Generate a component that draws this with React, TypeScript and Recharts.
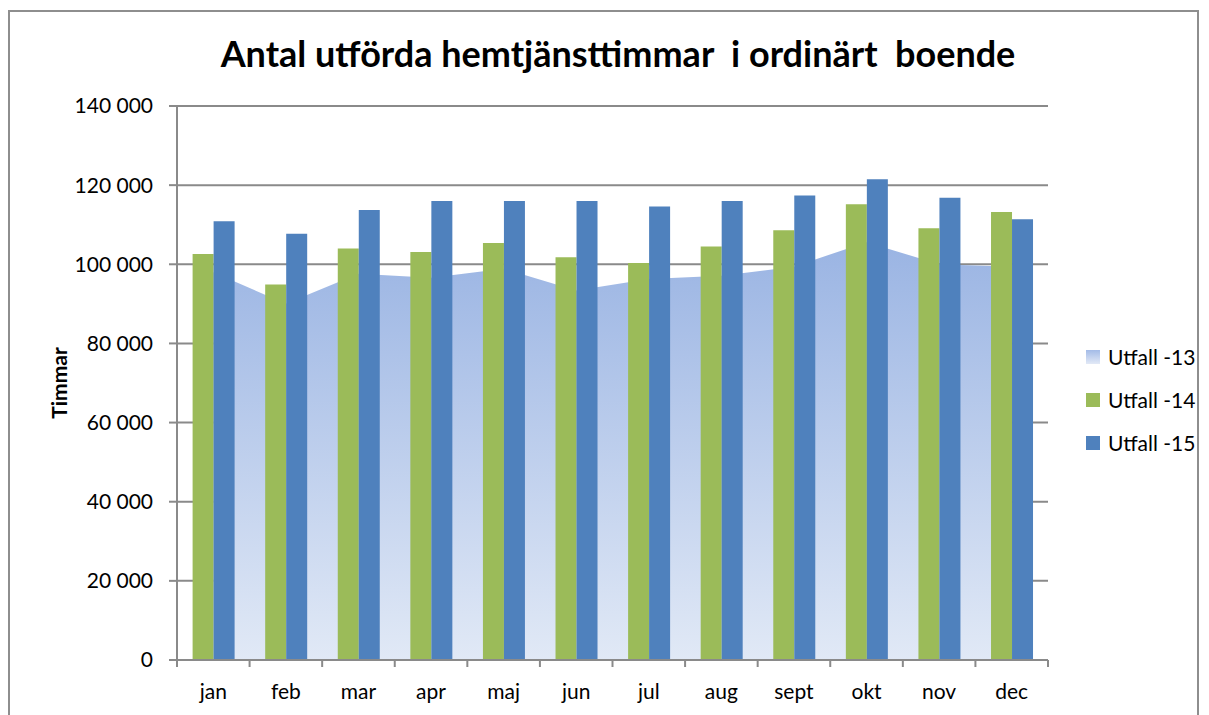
import React from 'react';
import { ComposedChart, Bar, Area, XAxis, YAxis, CartesianGrid, Legend, Label } from 'recharts';

const months = ['jan', 'feb', 'mar', 'apr', 'maj', 'jun', 'jul', 'aug', 'sept', 'okt', 'nov', 'dec'];
const utfall13 = [98000, 90000, 97600, 96600, 98900, 93400, 96300, 97100, 99400, 105600, 100000, 99400];
const utfall14 = [102600, 94900, 104000, 103100, 105400, 101800, 100300, 104500, 108600, 115200, 109100, 113200];
const utfall15 = [110900, 107700, 113700, 116000, 116000, 116000, 114600, 116000, 117400, 121500, 116800, 111400];
const yTicks = [0, 20000, 40000, 60000, 80000, 100000, 120000, 140000];
const seriesNames = ['Utfall -13', 'Utfall -14', 'Utfall -15'];

const data = months.map((m, i) => ({
  month: m,
  u13: utfall13[i],
  u14: utfall14[i],
  u15: utfall15[i],
}));

const FONT = 'Lato, "Open Sans", sans-serif';
const GRID = '#8a8a8a';
const X_TICK_SIZE = 7;
const X_TICK_MARGIN = 17;

const fmt = (v: number) => String(v).replace(/\B(?=(\d{3})+(?!\d))/g, ' ');

const XTick = (props: any) => {
  const { x, y, payload, index, visibleTicksCount } = props;
  const half = payload && payload.offset ? payload.offset : 36.3;
  const axisY = y - X_TICK_SIZE - X_TICK_MARGIN;
  const isLast = index === (visibleTicksCount ?? months.length) - 1;
  return (
    <g>
      <line x1={x - half} x2={x - half} y1={axisY} y2={axisY + X_TICK_SIZE} stroke={GRID} strokeWidth={2} />
      {isLast && (
        <line x1={x + half} x2={x + half} y1={axisY} y2={axisY + X_TICK_SIZE} stroke={GRID} strokeWidth={2} />
      )}
      <text x={x} y={y} dy="0.71em" textAnchor="middle" fontFamily={FONT} fontSize={21} fill="#000">
        {payload.value}
      </text>
    </g>
  );
};

const swatchStyles = [
  { background: 'linear-gradient(#a3bbe7, #e2e9f6)' },
  { background: '#9bbb59' },
  { background: '#4f81bd' },
];

const LegendContent = () => (
  <div style={{ fontFamily: FONT, fontSize: 21, color: '#000' }}>
    {seriesNames.map((n, i) => (
      <div key={n} style={{ display: 'flex', alignItems: 'center', height: 43 }}>
        <div style={{ width: 14, height: 14, marginRight: 8, ...swatchStyles[i] }} />
        <span>{n}</span>
      </div>
    ))}
  </div>
);

export default function App() {
  return (
    <div style={{ position: 'absolute', left: 0, top: 0, width: 1209, height: 715, overflow: 'hidden', background: '#fff' }}>
      <div
        style={{
          position: 'absolute',
          left: 8,
          top: 10,
          width: 1191,
          height: 720,
          border: '2px solid #8e8e8e',
          boxSizing: 'border-box',
        }}
      />
      <div
        style={{
          position: 'absolute',
          left: 0,
          top: 31,
          width: 1236,
          textAlign: 'center',
          fontFamily: FONT,
          fontWeight: 'bold',
          fontSize: 36,
          color: '#000',
          whiteSpace: 'pre',
        }}
      >
        {'Antal utförda hemtjänsttimmar  i ordinärt  boende'}
      </div>
      <div style={{ position: 'absolute', left: 0, top: 0 }}>
        <ComposedChart
          width={1209}
          height={715}
          data={data}
          margin={{ top: 106, right: 161, bottom: 15, left: 0 }}
          barCategoryGap="21.5%"
          barGap={0}
        >
          <defs>
            <linearGradient id="areaGrad" x1="0" y1="0" x2="0" y2="1">
              <stop offset="0%" stopColor="#9ab4e3" />
              <stop offset="100%" stopColor="#e1e9f6" />
            </linearGradient>
          </defs>
          <CartesianGrid vertical={false} stroke={GRID} strokeWidth={2} />
          <XAxis
            dataKey="month"
            height={40}
            axisLine={{ stroke: GRID, strokeWidth: 2 }}
            tickLine={false}
            tickSize={X_TICK_SIZE}
            tickMargin={X_TICK_MARGIN}
            tick={<XTick />}
            interval={0}
          />
          <YAxis
            width={177}
            domain={[0, 140000]}
            ticks={yTicks}
            tickFormatter={fmt}
            axisLine={{ stroke: GRID, strokeWidth: 2 }}
            tickLine={{ stroke: GRID, strokeWidth: 2 }}
            tickSize={8}
            tickMargin={16}
            tick={{ fontFamily: FONT, fontSize: 21, fill: '#000' }}
            interval={0}
          >
            <Label
              content={() => (
                <text
                  x={58}
                  y={383}
                  transform="rotate(-90 58 383)"
                  textAnchor="middle"
                  dominantBaseline="central"
                  fontFamily={FONT}
                  fontWeight="bold"
                  fontSize={21}
                  fill="#000"
                >
                  Timmar
                </text>
              )}
            />
          </YAxis>
          <Area
            dataKey="u13"
            name={seriesNames[0]}
            type="linear"
            stroke="none"
            fill="url(#areaGrad)"
            fillOpacity={1}
            isAnimationActive={false}
            dot={false}
            activeDot={false}
          />
          <Bar dataKey="u14" name={seriesNames[1]} fill="#9bbb59" isAnimationActive={false} />
          <Bar dataKey="u15" name={seriesNames[2]} fill="#4f81bd" isAnimationActive={false} />
          <Legend
            layout="vertical"
            align="center"
            verticalAlign="middle"
            content={<LegendContent />}
            wrapperStyle={{ left: 1086, top: 335, width: 123, height: 130 }}
          />
        </ComposedChart>
      </div>
    </div>
  );
}
